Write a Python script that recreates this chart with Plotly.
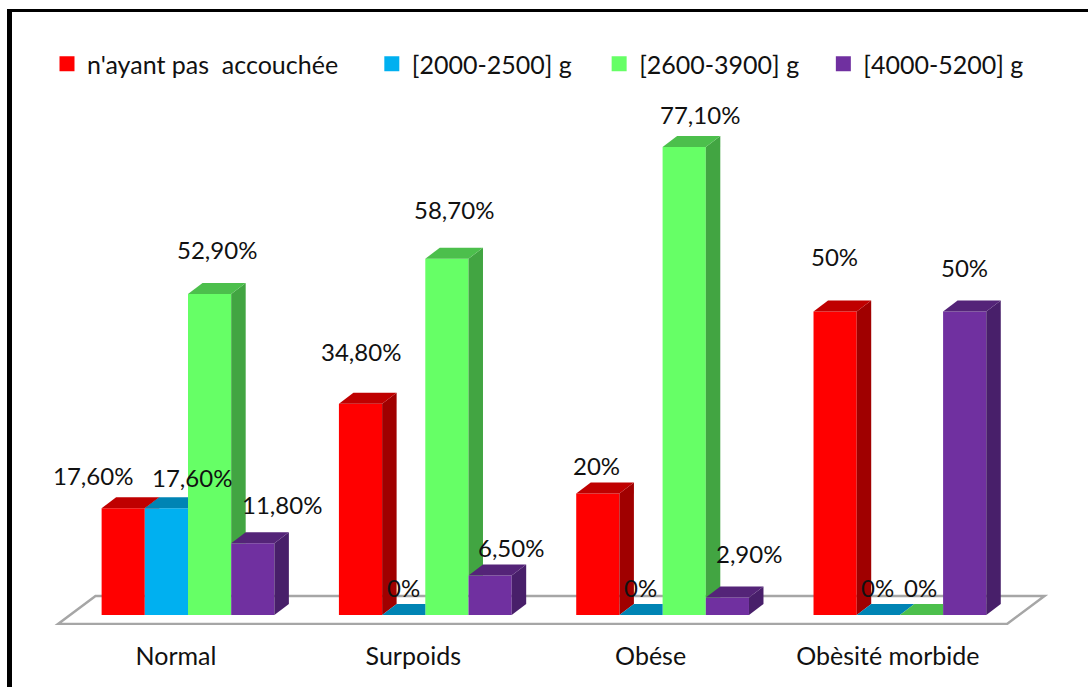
import plotly.graph_objects as go

# ---- data ----
categories = ["Normal", "Surpoids", "Obése", "Obèsité morbide"]
series_names = ["n'ayant pas\u00a0\u00a0accouchée", "[2000-2500] g", "[2600-3900] g", "[4000-5200] g"]
no_birth = [17.6, 34.8, 20, 50]
low_weight = [17.6, 0, 0, 0]
mid_weight = [52.9, 58.7, 77.1, 0]
high_weight = [11.8, 6.5, 2.9, 50]
labels_no_birth = ["17,60%", "34,80%", "20%", "50%"]
labels_low = ["17,60%", "0%", "0%", "0%"]
labels_mid = ["52,90%", "58,70%", "77,10%", "0%"]
labels_high = ["11,80%", "6,50%", "2,90%", "50%"]

# ---- styles ----
front = ["#FF0000", "#00B0F0", "#66FF66", "#7030A0"]
top_c = ["#BF0000", "#0084B4", "#4CBF4C", "#542478"]
side_c = ["#A00000", "#006F99", "#42A542", "#481F6A"]
FONT = "Lato"
W, H = 1088, 687
PLOT_BOTTOM = 625
X0, PX_X = 188.0, 237.3     # pixel of category 0, pixels per category
Y0, PX_Y = 615.0, 6.07      # pixel of value 0, pixels per unit
DX, DY = 14.5 / PX_X, 11 / PX_Y
BARGAP = 0.272
BW = (1 - BARGAP) / 4
TICK_SHIFT = -12 / PX_X     # category labels sit left of the group centre

# label offsets from the bar's centre and top, in pixels
LABEL_DX = [[-30, 0, -1, -1], [26, 0, -1, -1], [7, 7, 16, -1], [29, 21, 22, 0]]
LABEL_DY = [[33, 52, 28, 55], [31, 28, 28, 28], [44, 49, 33, 28], [39, 28, 44, 44]]

all_vals = [no_birth, low_weight, mid_weight, high_weight]
all_labels = [labels_no_birth, labels_low, labels_mid, labels_high]


def clip(poly, inside, cross):
    out = []
    for k, p in enumerate(poly):
        q = poly[(k + 1) % len(poly)]
        if inside(p):
            out.append(p)
        if inside(p) != inside(q):
            out.append(cross(p, q))
    return out


def clip_y(poly, ymin):
    return clip(poly, lambda p: p[1] >= ymin,
                lambda p, q: (p[0] + (q[0] - p[0]) * (ymin - p[1]) / (q[1] - p[1]), ymin))


def clip_x(poly, xmax):
    return clip(poly, lambda p: p[0] <= xmax,
                lambda p, q: (xmax, p[1] + (q[1] - p[1]) * (xmax - p[0]) / (q[0] - p[0])))


def poly_trace(poly, color):
    xs = [p[0] for p in poly] + [poly[0][0]]
    ys = [p[1] for p in poly] + [poly[0][1]]
    return go.Scatter(x=xs, y=ys, mode="lines", fill="toself", fillcolor=color,
                      line=dict(width=0), hoverinfo="skip", showlegend=False)


fig = go.Figure()

# native front faces
for s, vals in enumerate(all_vals):
    fig.add_trace(go.Bar(x=list(range(len(categories))), y=vals, marker=dict(color=front[s], line=dict(width=0)),
                         showlegend=False, name=series_names[s]))

# floor, below all traces
fl, fr, fy = (58 - X0) / PX_X, (1007 - X0) / PX_X, (Y0 - 624) / PX_Y
bdx, bdy = 37.5 / PX_X, 28 / PX_Y
fig.add_shape(type="path", xref="x", yref="y", layer="below",
              path=f"M{fl},{fy} L{fr},{fy} L{fr + bdx},{fy + bdy} L{fl + bdx},{fy + bdy} Z",
              line=dict(color="#A6A6A6", width=2.5), fillcolor="rgba(0,0,0,0)")

# depth faces, left to right, hidden parts cut away by the neighbouring front face
for c in range(len(categories)):
    for s, vals in enumerate(all_vals):
        v = vals[c]
        L = c + (s - 2) * BW
        R = L + BW
        nxt = all_vals[s + 1][c] if s < 3 else 0
        side = [(R, 0), (R + DX, DY), (R + DX, v + DY), (R, v)]
        if v > 0 or nxt == 0:
            side = clip_y(side, nxt)
            if len(side) > 2:
                fig.add_trace(poly_trace(side, side_c[s]))
        top = [(L, v), (R, v), (R + DX, v + DY), (L + DX, v + DY)]
        if nxt > v:
            top = clip_x(top, R)
        fig.add_trace(poly_trace(top, top_c[s]))

# legend entries
for s, name in enumerate(series_names):
    pad = ["\u00a0" * 4 + "\u2009", "\u00a0" * 3 + "\u2009", "\u00a0" * 3, ""][s]
    fig.add_trace(go.Scatter(x=[None], y=[None], mode="markers", name=name + pad,
                             marker=dict(symbol="square", size=15, color=front[s])))

# labels
for s, vals in enumerate(all_vals):
    for c, v in enumerate(vals):
        fig.add_annotation(x=c + (s - 1.5) * BW, y=v, text=all_labels[s][c], showarrow=False,
                           xanchor="center", yanchor="middle",
                           xshift=LABEL_DX[s][c], yshift=LABEL_DY[s][c],
                           font=dict(family=FONT, size=24, color="#111111"))

# outer frame
fig.add_shape(type="rect", xref="paper", yref="paper", x0=7 / W, x1=12 / W, y0=(PLOT_BOTTOM - H) / PLOT_BOTTOM,
              y1=(PLOT_BOTTOM - 9) / PLOT_BOTTOM, fillcolor="black", line_width=0)
fig.add_shape(type="rect", xref="paper", yref="paper", x0=7 / W, x1=1, y0=(PLOT_BOTTOM - 12) / PLOT_BOTTOM,
              y1=(PLOT_BOTTOM - 9) / PLOT_BOTTOM, fillcolor="black", line_width=0)

fig.update_layout(
    width=W, height=H, barmode="group", bargap=BARGAP, bargroupgap=0,
    margin=dict(l=0, r=0, t=0, b=H - PLOT_BOTTOM, pad=0),
    paper_bgcolor="white", plot_bgcolor="white",
    font=dict(family=FONT, size=25, color="#111111"),
    legend=dict(orientation="h", x=47 / W, xanchor="left", y=(PLOT_BOTTOM - 64) / PLOT_BOTTOM, yanchor="middle",
                font=dict(family=FONT, size=25, color="#111111"), bgcolor="rgba(0,0,0,0)", itemclick=False,
                itemdoubleclick=False, tracegroupgap=0),
    xaxis=dict(range=[(0 - X0) / PX_X, (W - X0) / PX_X], tickmode="array",
               tickvals=[c + TICK_SHIFT for c in range(len(categories))],
               ticktext=categories, showgrid=False, zeroline=False, showline=False, ticks="",
               ticklabelstandoff=14, tickfont=dict(family=FONT, size=25, color="#111111")),
    yaxis=dict(range=[(Y0 - PLOT_BOTTOM) / PX_Y, Y0 / PX_Y], visible=False),
)

fig.write_html("out.html", config=dict(displayModeBar=False),
               post_script="document.body.style.margin='0';document.body.style.overflow='hidden';")
